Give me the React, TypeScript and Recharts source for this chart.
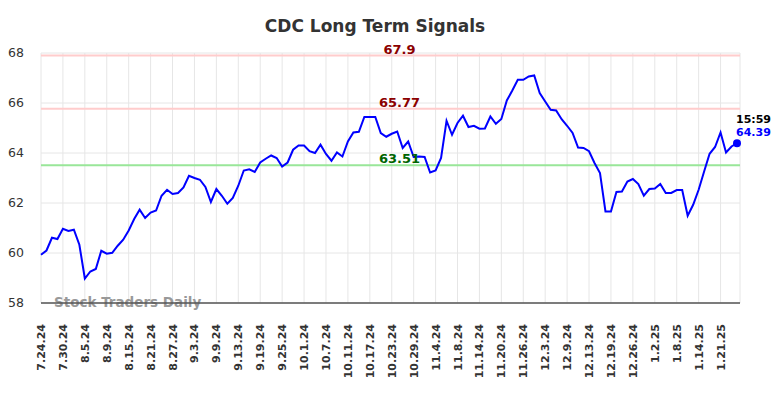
import React from 'react'
import {
  CartesianGrid,
  Label,
  Line,
  LineChart,
  ReferenceLine,
  XAxis,
  YAxis,
} from 'recharts'

// one tick label every 4 trading days
const tickLabels = [
  '7.24.24', '7.30.24', '8.5.24', '8.9.24', '8.15.24', '8.21.24', '8.27.24', '9.3.24',
  '9.9.24', '9.13.24', '9.19.24', '9.25.24', '10.1.24', '10.7.24', '10.11.24', '10.17.24',
  '10.23.24', '10.29.24', '11.4.24', '11.8.24', '11.14.24', '11.20.24', '11.26.24', '12.3.24',
  '12.9.24', '12.13.24', '12.19.24', '12.26.24', '1.2.25', '1.8.25', '1.14.25', '1.21.25',
]

const signal = [
  59.93, 60.1, 60.61, 60.56, 60.97, 60.88, 60.93, 60.33, 58.98, 59.26, 59.36, 60.09, 59.97, 60.01, 60.29, 60.53,
  60.9, 61.36, 61.73, 61.4, 61.62, 61.7, 62.29, 62.53, 62.36, 62.4, 62.62, 63.09, 63.0, 62.93, 62.64, 62.04,
  62.56, 62.29, 61.97, 62.2, 62.69, 63.3, 63.35, 63.24, 63.62, 63.77, 63.9, 63.8, 63.46, 63.62, 64.13, 64.3,
  64.3, 64.07, 64.0, 64.33, 63.96, 63.69, 64.02, 63.86, 64.46, 64.82, 64.85, 65.44, 65.44, 65.44, 64.8, 64.65,
  64.77, 64.86, 64.2, 64.46, 63.84, 63.86, 63.84, 63.22, 63.3, 63.8, 65.29, 64.73, 65.2, 65.49, 65.04, 65.09,
  64.97, 64.98, 65.46, 65.17, 65.36, 66.1, 66.5, 66.93, 66.93, 67.06, 67.1, 66.4, 66.06, 65.73, 65.7, 65.35,
  65.09, 64.8, 64.22, 64.2, 64.07, 63.6, 63.2, 61.66, 61.66, 62.44, 62.46, 62.86, 62.96, 62.76, 62.29, 62.56,
  62.58, 62.76, 62.4, 62.4, 62.52, 62.52, 61.49, 61.93, 62.53, 63.26, 63.97, 64.24, 64.82, 64.02, 64.26, 64.39,
]

const yTicks = [58, 60, 62, 64, 66, 68]
const resistanceHigh = 67.9
const resistanceMid = 65.77
const support = 63.51
const lastTime = '15:59'

const data = signal.map((v, i) => ({ i, v }))
const xTicks = tickLabels.map((_, k) => k * 4)
const FONT = 'DejaVu Sans, sans-serif'

function DateTick(props: any) {
  const { x, y, payload } = props
  return (
    <g transform={`translate(${x},${y})`}>
      <text
        transform="rotate(-90)"
        x={-19}
        y={0}
        dy={4}
        textAnchor="end"
        fontSize={11}
        fontWeight="bold"
        fontFamily={FONT}
        fill="#333"
      >
        {tickLabels[payload.value / 4]}
      </text>
    </g>
  )
}

function LastDot(props: any) {
  const { cx, cy, index } = props
  if (index !== signal.length - 1) return <g key={`d${index}`} />
  return (
    <g key="last">
      <circle cx={cx} cy={cy} r={4} fill="#0000ff" />
      <text x={cx - 1} y={cy} dy={-20} fontSize={11} fontWeight="bold" fontFamily={FONT} fill="#000">
        {lastTime}
      </text>
      <text x={cx - 1} y={cy} dy={-7} fontSize={11} fontWeight="bold" fontFamily={FONT} fill="#0000ff">
        {signal[signal.length - 1].toFixed(2)}
      </text>
    </g>
  )
}

export default function App() {
  return (
    <div style={{ position: 'absolute', left: 0, top: 0, width: 784, height: 398, background: '#fff' }}>
      <svg style={{ position: 'absolute', left: 0, top: 0 }} width={784} height={40}>
        <text x={375} y={32} textAnchor="middle" fontSize={17} fontWeight="bold" fontFamily={FONT} fill="#333">
          CDC Long Term Signals
        </text>
      </svg>
      <LineChart width={784} height={398} data={data} margin={{ top: 53, right: 44, bottom: 0, left: 0 }}>
        <CartesianGrid stroke="#e6e6e6" />
        <XAxis
          dataKey="i"
          type="number"
          domain={[0, signal.length - 1]}
          ticks={xTicks}
          interval={0}
          height={95}
          padding={{ left: 0, right: 3 }}
          tick={<DateTick />}
          tickLine={false}
          tickSize={0}
          axisLine={{ stroke: '#555', strokeWidth: 1.5 }}
        />
        <YAxis
          domain={[58, 68]}
          ticks={yTicks}
          width={41}
          tickLine={false}
          axisLine={false}
          tickSize={0}
          tickMargin={17}
          tick={{ fontSize: 12.5, fontFamily: FONT, fill: '#333' }}
        />
        <ReferenceLine y={resistanceHigh} stroke="#ffcccc" strokeWidth={2}>
          <Label value="67.9" position="top" offset={2} dx={9} fontSize={13} fontWeight="bold" fontFamily={FONT} fill="#8b0000" />
        </ReferenceLine>
        <ReferenceLine y={resistanceMid} stroke="#ffcccc" strokeWidth={2}>
          <Label value={String(resistanceMid)} position="top" offset={2} dx={9} fontSize={13} fontWeight="bold" fontFamily={FONT} fill="#8b0000" />
        </ReferenceLine>
        <ReferenceLine y={support} stroke="#99e699" strokeWidth={2}>
          <Label value={String(support)} position="top" offset={2} dx={9} fontSize={13} fontWeight="bold" fontFamily={FONT} fill="#006400" />
        </ReferenceLine>
        <Line
          type="linear"
          dataKey="v"
          stroke="#0000ff"
          strokeWidth={2}
          dot={<LastDot />}
          activeDot={false}
          isAnimationActive={false}
        />
        <text x={54} y={307} fontSize={13.5} fontWeight="bold" fontFamily={FONT} fill="#999">
          Stock Traders Daily
        </text>
      </LineChart>
    </div>
  )
}
